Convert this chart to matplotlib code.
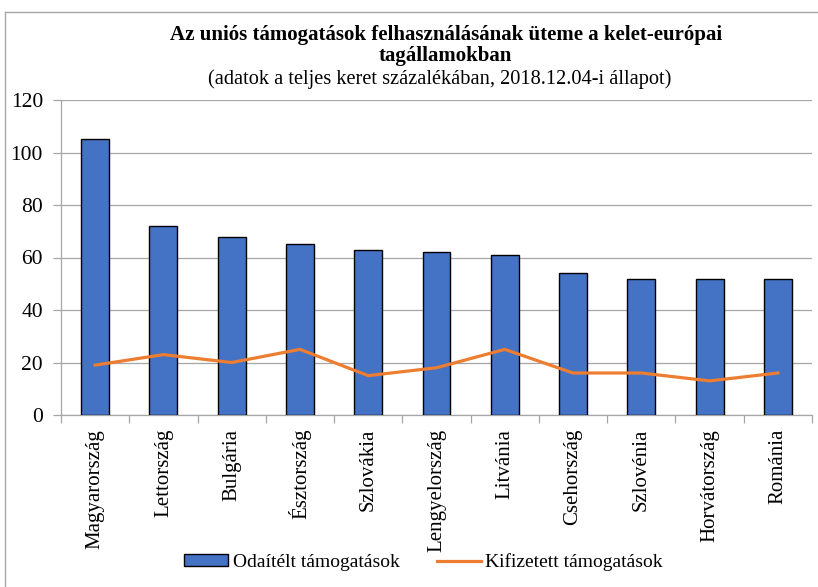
import matplotlib.pyplot as plt
from matplotlib.lines import Line2D
import numpy as np

# country names and the two series (percent of total budget)
countries = ["Magyarország", "Lettország", "Bulgária", "Észtország", "Szlovákia",
             "Lengyelország", "Litvánia", "Csehország", "Szlovénia", "Horvátország",
             "Románia"]
awarded = [105, 72, 68, 65, 63, 62, 61, 54, 52, 52, 52]
paid = [19, 23, 20, 25, 15, 18, 25, 16, 16, 13, 16]

title_1 = "Az uniós támogatások felhasználásának üteme a kelet-európai"
title_2 = "tagállamokban"
subtitle = "(adatok a teljes keret százalékában, 2018.12.04-i állapot)"

plt.rcParams['font.family'] = ['Liberation Serif', 'DejaVu Serif']

fig = plt.figure(figsize=(8.18, 5.87), dpi=100)
ax = fig.add_axes([61 / 818, 1 - 415 / 587, (812 - 61) / 818, (415 - 100) / 587])

x = np.arange(len(countries))
bars = ax.bar(x, awarded, 0.41, color='#4472C4', edgecolor='black', linewidth=1.0,
              label="Odaítélt támogatások", zorder=3)
line, = ax.plot(x, paid, color='#ED7D31', linewidth=2.3,
                label="Kifizetett támogatások", zorder=4)

ax.set_xlim(-0.5, len(countries) - 0.5)
ax.set_ylim(0, 120)
ax.set_yticks(range(0, 121, 20))
ax.grid(axis='y', color='#a6a6a6', linewidth=0.9, zorder=0)

for s in ['top', 'right']:
    ax.spines[s].set_visible(False)
for s in ['left', 'bottom']:
    ax.spines[s].set_color('#a6a6a6')
    ax.spines[s].set_linewidth(0.9)

ax.tick_params(axis='y', length=6, color='#a6a6a6', width=0.9, labelsize=15.5, pad=7)
ax.set_xticks(x)
ax.set_xticklabels(countries, rotation=90, fontsize=15)
ax.tick_params(axis='x', length=0, pad=10)
# category boundary tick marks
ax.set_xticks(np.arange(-0.5, len(countries), 1), minor=True)
ax.tick_params(axis='x', which='minor', length=6, color='#a6a6a6', width=0.9)

fig.text(0.545, 1 - 35 / 587, title_1, ha='center', va='center', fontsize=15,
         fontweight='bold')
fig.text(0.545, 1 - 56 / 587, title_2, ha='center', va='center', fontsize=15,
         fontweight='bold')
fig.text(0.538, 1 - 79 / 587, subtitle, ha='center', va='center', fontsize=14.7)

fig.legend([bars, line], ["Odaítélt támogatások", "Kifizetett támogatások"],
           loc='center', bbox_to_anchor=(0.518, 1 - 562 / 587), ncol=2, frameon=False,
           fontsize=14, handlelength=2.25, handleheight=0.5, columnspacing=1.9,
           handletextpad=0.25)

# chart area border (only top and left visible)
fig.add_artist(Line2D([5 / 818, 1], [1 - 12 / 587, 1 - 12 / 587], color='#a6a6a6',
                      linewidth=1.0, transform=fig.transFigure))
fig.add_artist(Line2D([5 / 818, 5 / 818], [0, 1 - 12 / 587], color='#a6a6a6',
                      linewidth=1.0, transform=fig.transFigure))

fig.savefig("out.png", dpi=100)
